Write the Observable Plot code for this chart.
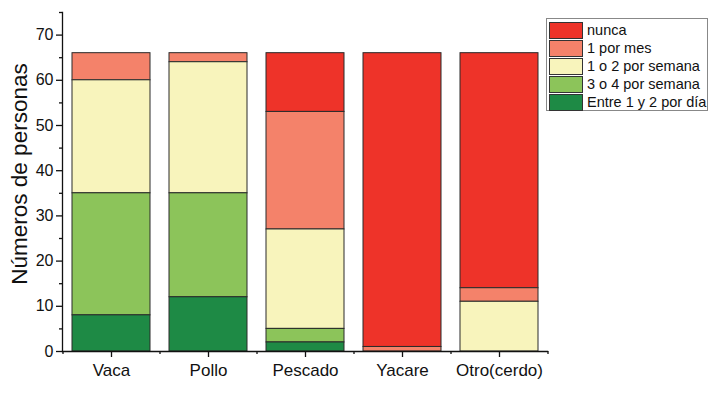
<!DOCTYPE html>
<html>
<head>
<meta charset="utf-8">
<script src="https://cdn.jsdelivr.net/npm/d3@7"></script>
<script src="https://cdn.jsdelivr.net/npm/@observablehq/plot@0.6"></script>
<style>
  html, body { margin: 0; padding: 0; background: #fff; }
  #wrap { position: relative; width: 721px; height: 398px; font-family: "Liberation Sans", Arial, sans-serif; }
  #legend { position: absolute; left: 546px; top: 18px; width: 162px; height: 93px; border: 1px solid #888; background: #fff; padding: 2px 0 0 2px; box-sizing: border-box; }
  .row { display: flex; align-items: center; height: 18px; font-size: 14.5px; color: #111; white-space: nowrap; }
  .sw { width: 34px; height: 17px; border: 1px solid #333; box-sizing: border-box; margin-right: 4px; flex: none; }
</style>
</head>
<body>
<div id="wrap"></div>
<script>
const categories = ["Vaca", "Pollo", "Pescado", "Yacare", "Otro(cerdo)"];
const series = ["nunca", "1 por mes", "1 o 2 por semana", "3 o 4 por semana", "Entre 1 y 2 por día"];
const colors = ["#ee3329", "#f4826a", "#f8f4bc", "#8cc45a", "#1e8a45"];
// values per series, one per category
const nunca      = [0, 0, 13, 65, 52];
const porMes     = [6, 2, 26, 1, 3];
const semana12   = [25, 29, 22, 0, 11];
const semana34   = [27, 23, 3, 0, 0];
const diario12   = [8, 12, 2, 0, 0];
const yTicks = [0, 10, 20, 30, 40, 50, 60, 70];
const yMinor = [5, 15, 25, 35, 45, 55, 65, 75];

const valuesBySeries = [nunca, porMes, semana12, semana34, diario12];
const data = [];
series.forEach((s, i) => categories.forEach((c, j) => data.push({cat: c, serie: s, value: valuesBySeries[i][j]})));
const stackOrder = series.slice().reverse(); // bottom to top

const W = 721, H = 398, mL = 62, mR = 174, mT = 12, mB = 47;
const step = (W - mL - mR) / categories.length;

const chart = Plot.plot({
  width: W, height: H,
  marginLeft: mL, marginRight: mR, marginTop: mT, marginBottom: mB,
  style: {fontFamily: "'Liberation Sans', Arial, sans-serif", background: "#fff", color: "#111"},
  x: {domain: categories, paddingInner: 0.2, paddingOuter: 0.1, label: null, axis: null},
  y: {domain: [0, 75], label: null, axis: null},
  color: {domain: series, range: colors},
  marks: [
    Plot.barY(data.filter(d => d.value > 0), Plot.stackY({order: stackOrder}, {x: "cat", y: "value", fill: "serie", stroke: "#2a2a2a", strokeWidth: 1})),
    Plot.frame({anchor: "left", stroke: "#111", strokeWidth: 1.3}),
    Plot.frame({anchor: "bottom", stroke: "#111", strokeWidth: 1.3}),
    Plot.axisY({ticks: yTicks, tickSize: 6, tickPadding: 3, fontSize: 16, stroke: "#111", strokeWidth: 1.3}),
    Plot.axisY({ticks: yMinor, tickSize: 3, text: null, stroke: "#111", strokeWidth: 1.3}),
    Plot.axisX({ticks: categories, tickSize: 6, tickPadding: 6, fontSize: 17, stroke: "#111", strokeWidth: 1.3}),
    Plot.axisX({ticks: categories, tickSize: 3, text: null, dx: -step / 2, stroke: "#111", strokeWidth: 1.3}),
    Plot.axisX({ticks: categories.slice(-1), tickSize: 3, text: null, dx: step / 2, stroke: "#111", strokeWidth: 1.3}),
    Plot.text(["Números de personas"], {frameAnchor: "left", textAnchor: "middle", dx: -43, dy: -8, rotate: -90, fontSize: 22.5, fill: "#111"})
  ]
});
const wrap = document.getElementById("wrap");
wrap.appendChild(chart);

const legend = document.createElement("div");
legend.id = "legend";
series.forEach((s, i) => {
  const row = document.createElement("div");
  row.className = "row";
  const sw = document.createElement("div");
  sw.className = "sw";
  sw.style.background = colors[i];
  const t = document.createElement("span");
  t.textContent = s;
  row.appendChild(sw); row.appendChild(t);
  legend.appendChild(row);
});
wrap.appendChild(legend);
</script>
</body>
</html>
